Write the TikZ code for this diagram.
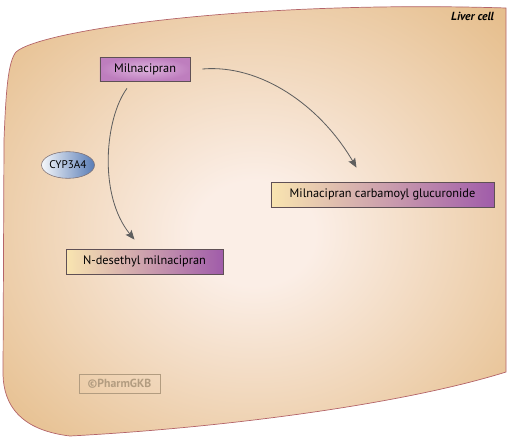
\documentclass[tikz,border=0pt]{standalone}
\usepackage{fontspec}
\setmainfont{PT Sans}
\usetikzlibrary{arrows.meta, positioning, calc, shapes.geometric}
\definecolor{cellC}  {RGB}{230, 191, 142}
\definecolor{cellIn} {RGB}{251, 238, 230}
\definecolor{cellLn} {RGB}{180, 100, 105}
\definecolor{drugC}  {RGB}{190, 126, 190}
\definecolor{drugIn} {RGB}{222, 180, 222}
\definecolor{boxLn}  {RGB}{ 95,  80,  85}
\definecolor{metL}   {RGB}{249, 229, 176}
\definecolor{metR}   {RGB}{160,  92, 170}
\definecolor{enzL}   {RGB}{245, 247, 250}
\definecolor{enzR}   {RGB}{ 88, 124, 182}
\definecolor{arrC}   {RGB}{ 95,  95,  95}
\definecolor{pgkbC}  {RGB}{178, 156, 128}
\pgfdeclareradialshading{cellglow}{\pgfpoint{0bp}{-2bp}}{%
  color(0bp)=(cellIn); color(6bp)=(cellIn); color(34bp)=(cellC); color(50bp)=(cellC)}
\tikzset{
  drug/.style   = {draw=boxLn, line width=0.6pt, inner color=drugIn, outer color=drugC,
                   minimum width=2.7cm, minimum height=0.72cm, inner sep=0pt,
                   font=\fontsize{10.5}{12}\selectfont},
  metab/.style  = {draw=boxLn, line width=0.6pt, left color=metL, right color=metR,
                   minimum height=0.75cm, inner sep=0pt, font=\fontsize{10.5}{12}\selectfont},
  enzyme/.style = {ellipse, draw=boxLn!80, line width=0.5pt, left color=enzL, right color=enzR,
                   minimum width=1.59cm, minimum height=0.8cm, inner sep=0pt,
                   font=\fontsize{9.5}{11}\selectfont},
  rxn/.style    = {-{Stealth[length=8pt, width=6.5pt, inset=1.5pt]}, color=arrC, line width=0.7pt},
}
\begin{document}
\begin{tikzpicture}[x=0.03cm, y=0.03cm]

% ---- Frame -------------------------------------------------------------------
% pixel grid: x 0..508 right, y 0..-442 down
\useasboundingbox (0,0) rectangle (508,-442);

% ---- Liver cell ----------------------------------------------------------------
\shade[shading=cellglow, draw=cellLn, line width=0.6pt]
  (506,-8) -- (506,-372)
  .. controls (400,-405) and (220,-428) .. (70,-436)
  .. controls (20,-430) and (4,-405) .. (3,-375)
  -- (4,-140)
  .. controls (6,-90) and (8,-62) .. (16,-52)
  .. controls (40,-30) and (250,0) .. (506,-8) -- cycle;
\node[font=\fontsize{10}{12}\selectfont\bfseries\itshape, anchor=east] (cell) at (498,-16) {Liver cell};

% ---- Compounds -------------------------------------------------------------------
\node[drug]  (mil) at (145,-69)     {Milnacipran};
\node[metab, minimum width=4.71cm] (ndm) at (144.5,-261.5) {N-desethyl milnacipran};
\node[metab, minimum width=6.69cm] (mcg) at (382.5,-194.5) {Milnacipran carbamoyl glucuronide};
\node[enzyme] (cyp) at (68,-165) {CYP3A4};

% ---- Reactions -------------------------------------------------------------------
\draw[rxn] ($(mil.south)+(-18,-7)$)
  .. controls (105,-118) and (98,-195) .. ($(ndm.north)+(-10,9)$);
\draw[rxn] ($(mil.east)+(12,0)$)
  .. controls (260,-64) and (320,-105) .. ($(mcg.north)+(-26,14)$);

% ---- Watermark ---------------------------------------------------------------------
\node[draw=pgkbC, line width=0.6pt, text=pgkbC, minimum width=2.43cm, minimum height=0.57cm,
      inner sep=0pt, font=\fontsize{10}{12}\selectfont\bfseries] (pgkb) at (119.5,-383.5) {\textcopyright PharmGKB};

\end{tikzpicture}
\end{document}
